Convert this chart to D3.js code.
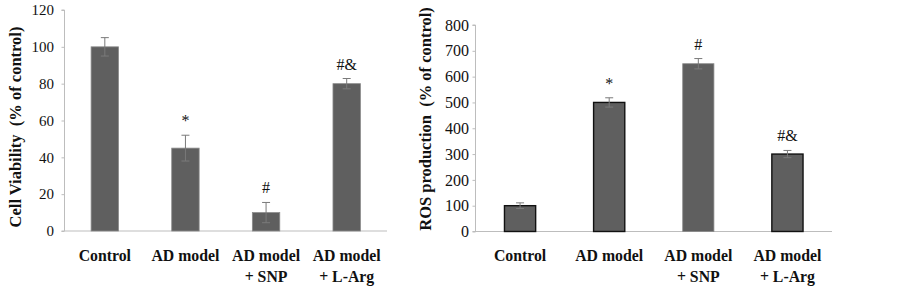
<!DOCTYPE html>
<html>
<head>
<meta charset="utf-8">
<script src="https://cdn.jsdelivr.net/npm/d3@7"></script>
<style>
  body { margin: 0; background: #fff; }
  svg { display: block; font-family: "Liberation Serif", "Times New Roman", serif; }
</style>
</head>
<body>
<div id="chart-area"></div>
<script>
const groups = [["Control"], ["AD model"], ["AD model", "+ SNP"], ["AD model", "+ L-Arg"]];
const viability = [100, 45, 10, 80];
const viabilityErr = [5, 7, 5.5, 2.8];
const viabilityMarks = ["", "*", "#", "#&"];
const viabilityTicks = [0, 20, 40, 60, 80, 100, 120];
const ros = [100, 500, 650, 300];
const rosErr = [11, 18, 20, 14];
const rosMarks = ["", "*", "#", "#&"];
const rosTicks = [0, 100, 200, 300, 400, 500, 600, 700, 800];

const svg = d3.select("#chart-area")
  .append("svg")
  .attr("width", 903)
  .attr("height", 287);

function drawPanel(p) {
  const data = groups.map((g, i) => ({ i, lines: g, v: p.values[i], e: p.errors[i], m: p.marks[i] }));

  const x = d3.scaleBand()
    .domain(data.map(d => d.i))
    .range([p.x0, p.x1])
    .paddingInner(p.pad)
    .paddingOuter(p.pad / 2);

  const y = d3.scaleLinear()
    .domain([0, d3.max(p.ticks)])
    .range([p.yBottom, p.yTop]);

  const band = x.step();
  const g = svg.append("g");

  // y axis
  const yAxis = g.append("g")
    .attr("transform", `translate(${p.x0},0)`)
    .call(d3.axisLeft(y).tickValues(p.ticks).tickSize(3).tickPadding(p.tickPad));
  yAxis.select(".domain").attr("stroke", "#bdbdbd").attr("d", `M-3,${y(d3.max(p.ticks))}H0V${p.yBottom}`);
  yAxis.selectAll(".tick line").attr("stroke", "#bdbdbd");
  yAxis.selectAll(".tick text")
    .attr("font-size", p.tickFont)
    .attr("font-family", "Liberation Serif")
    .attr("fill", "#111");

  // x baseline
  g.append("line")
    .attr("x1", p.x0 - 3).attr("x2", p.x1)
    .attr("y1", y(0)).attr("y2", y(0))
    .attr("stroke", "#bdbdbd");

  const bw = band * (1 - p.pad);
  const cx = d => x(d.i) + x.bandwidth() / 2;

  g.selectAll("rect.bar")
    .data(data)
    .enter()
    .append("rect")
      .attr("class", "bar")
      .attr("x", d => cx(d) - bw / 2)
      .attr("y", d => y(d.v))
      .attr("width", bw)
      .attr("height", d => y(0) - y(d.v))
      .attr("fill", "#5f5f5f")
      .attr("stroke", (d, i) => p.strokes[i])
      .attr("stroke-width", (d, i) => p.strokes[i] === "#111" ? 1.4 : 0.8);

  // error bars
  const eb = g.selectAll("g.err")
    .data(data)
    .enter()
    .append("g")
      .attr("class", "err")
      .attr("stroke", "#7a7a7a")
      .attr("stroke-width", 1);
  eb.append("line")
    .attr("x1", cx).attr("x2", cx)
    .attr("y1", d => y(d.v + d.e)).attr("y2", d => y(d.v - d.e));
  eb.append("line")
    .attr("x1", d => cx(d) - 4).attr("x2", d => cx(d) + 4)
    .attr("y1", d => y(d.v + d.e)).attr("y2", d => y(d.v + d.e));
  eb.append("line")
    .attr("x1", d => cx(d) - 4).attr("x2", d => cx(d) + 4)
    .attr("y1", d => y(d.v - d.e)).attr("y2", d => y(d.v - d.e));

  // significance marks
  g.selectAll("text.mark")
    .data(data)
    .enter()
    .append("text")
      .attr("class", "mark")
      .attr("x", cx)
      .attr("y", d => y(d.v + d.e) - 9)
      .attr("text-anchor", "middle")
      .attr("font-size", 16)
      .attr("fill", "#111")
      .text(d => d.m);

  // category labels
  const lab = g.selectAll("text.cat")
    .data(data)
    .enter()
    .append("text")
      .attr("class", "cat")
      .attr("text-anchor", "middle")
      .attr("font-size", 15.8)
      .attr("font-weight", "bold")
      .attr("fill", "#111");
  lab.selectAll("tspan")
    .data(d => d.lines.map((t, k) => ({ t, k, x: cx(d) })))
    .enter()
    .append("tspan")
      .attr("x", t => t.x)
      .attr("y", t => 261 + t.k * 20.5)
      .text(t => t.t);

  // y label
  g.append("text")
    .attr("transform", `translate(${p.labelX},${p.labelY}) rotate(-90)`)
    .attr("text-anchor", "middle")
    .attr("font-size", 16.5)
    .attr("font-weight", "bold")
    .attr("fill", "#111")
    .attr("xml:space", "preserve")
    .text(p.label);
}

drawPanel({
  values: viability, errors: viabilityErr, marks: viabilityMarks, ticks: viabilityTicks,
  x0: 64.5, x1: 387, yTop: 10, yBottom: 231, pad: 0.66, tickPad: 7.5, tickFont: 15,
  strokes: ["#8a8a8a", "#8a8a8a", "#8a8a8a", "#8a8a8a"],
  label: "Cell Viability  (% of control)", labelX: 21, labelY: 127
});

drawPanel({
  values: ros, errors: rosErr, marks: rosMarks, ticks: rosTicks,
  x0: 475.5, x1: 832, yTop: 25, yBottom: 231.5, pad: 0.65, tickPad: 3.5, tickFont: 16,
  strokes: ["#111", "#111", "#8a8a8a", "#111"],
  label: "ROS production  (% of control)", labelX: 431, labelY: 119
});
</script>
</body>
</html>
